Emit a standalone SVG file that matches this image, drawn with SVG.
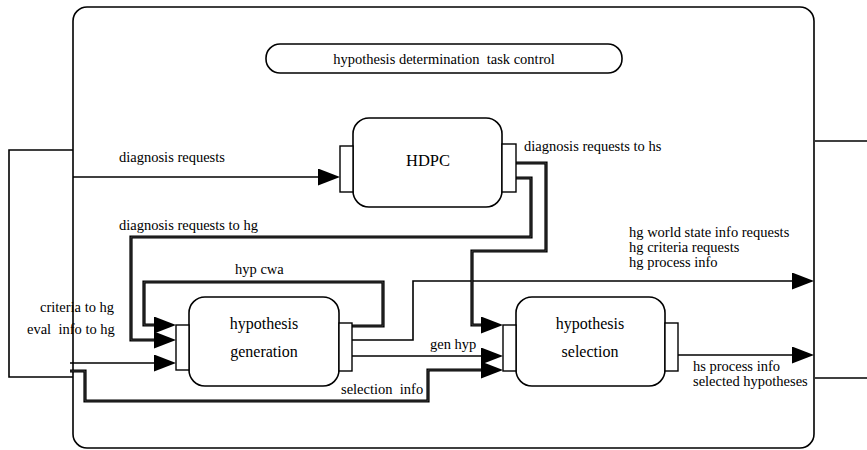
<svg xmlns="http://www.w3.org/2000/svg" width="867" height="450" viewBox="0 0 867 450" font-family="Liberation Serif, Times New Roman, serif">
  <style>
    .box { fill: #fff; stroke: #000; stroke-width: 1.6; }
    .port { fill: #fff; stroke: #000; stroke-width: 1.4; }
    .thin { fill: none; stroke: #000; stroke-width: 1.6; }
    .thick { fill: none; stroke: #000; stroke-width: 3.2; }
    .thick-core { fill: none; stroke: #555; stroke-width: 0.7; }
    .lbl { font-family: 'Liberation Serif', 'Times New Roman', serif; font-size: 14.5px; fill: #000; white-space: pre; }
    .name { font-family: 'Liberation Serif', 'Times New Roman', serif; font-size: 16px; fill: #000; text-anchor: middle; }
  </style>
  <defs>
    <marker id="arrow" markerUnits="userSpaceOnUse" markerWidth="23" markerHeight="18" refX="0" refY="8.5" orient="auto">
      <path d="M0,0 L22,8.5 L0,17 Z" fill="#000"/>
    </marker>
    <!-- double-ruled flows -->
    <path id="f-hs" d="M516,163 H546 V251 H472 V325 H481"/>
    <path id="f-hg" d="M516,178 H531 V237 H131 V340 H154"/>
    <path id="f-cwa" d="M352,326 H383 V282 H144 V325 H154"/>
    <path id="f-sel" d="M70,371 H85 V401 H428 V370 H481"/>
  </defs>

  <rect id="bg" x="0" y="0" width="867" height="450" fill="#fff"/>

  <!-- enclosing component -->
  <g id="hypothesis-determination">
    <rect class="box" x="73" y="7" width="741" height="441" rx="14"/>
  </g>

  <g id="task-control">
    <rect class="box" x="266" y="44" width="356" height="29" rx="14"/>
    <text class="lbl" x="444" y="64" text-anchor="middle">hypothesis determination  task control</text>
  </g>

  <!-- connectors -->
  <g id="connectors">
    <path class="thin" d="M73,150 H9 V377 H73"/>
    <path class="thin" d="M815,141 H867"/>
    <path class="thin" d="M815,378 H867"/>
    <path class="thin" d="M73,177 H318" marker-end="url(#arrow)"/>
    <path class="thin" d="M352,340 H413 V281 H792" marker-end="url(#arrow)"/>
    <path class="thin" d="M352,356 H481" marker-end="url(#arrow)"/>
    <path class="thin" d="M70,363 H154" marker-end="url(#arrow)"/>
    <path class="thin" d="M678,355 H792" marker-end="url(#arrow)"/>

    <use href="#f-hs" class="thick" marker-end="url(#arrow)"/>
    <use href="#f-hg" class="thick" marker-end="url(#arrow)"/>
    <use href="#f-cwa" class="thick" marker-end="url(#arrow)"/>
    <use href="#f-sel" class="thick" marker-end="url(#arrow)"/>
    <use href="#f-hs" class="thick-core"/>
    <use href="#f-hg" class="thick-core"/>
    <use href="#f-cwa" class="thick-core"/>
    <use href="#f-sel" class="thick-core"/>

    <text class="lbl" x="119" y="162">diagnosis requests</text>
    <text class="lbl" x="119" y="230">diagnosis requests to hg</text>
    <text class="lbl" x="524" y="151">diagnosis requests to hs</text>
    <text class="lbl" x="235" y="274">hyp cwa</text>
    <text class="lbl" x="40" y="312">criteria to hg</text>
    <text class="lbl" x="27" y="334">eval  info to hg</text>
    <text class="lbl" x="430" y="349">gen hyp</text>
    <text class="lbl" x="341" y="394">selection  info</text>
    <text class="lbl" x="629" y="237">hg world state info requests</text>
    <text class="lbl" x="629" y="252">hg criteria requests</text>
    <text class="lbl" x="629" y="267">hg process info</text>
    <text class="lbl" x="693" y="371">hs process info</text>
    <text class="lbl" x="693" y="386">selected hypotheses</text>
  </g>

  <g id="hdpc">
    <rect class="box" x="353" y="118" width="149" height="89" rx="16"/>
    <rect class="port" x="340" y="146" width="13" height="46"/>
    <rect class="port" x="502" y="144" width="14" height="48"/>
    <text class="name" x="428" y="166" style="font-size:16.5px">HDPC</text>
  </g>

  <g id="hypothesis-generation">
    <rect class="box" x="189" y="297" width="150" height="89" rx="16"/>
    <rect class="port" x="176" y="325" width="13" height="45"/>
    <rect class="port" x="339" y="323" width="13" height="48"/>
    <text class="name" x="264" y="329">hypothesis</text>
    <text class="name" x="264" y="357">generation</text>
  </g>

  <g id="hypothesis-selection">
    <rect class="box" x="516" y="297" width="149" height="89" rx="16"/>
    <rect class="port" x="503" y="325" width="13" height="46"/>
    <rect class="port" x="665" y="323" width="13" height="48"/>
    <text class="name" x="590" y="329">hypothesis</text>
    <text class="name" x="590" y="357">selection</text>
  </g>
</svg>
